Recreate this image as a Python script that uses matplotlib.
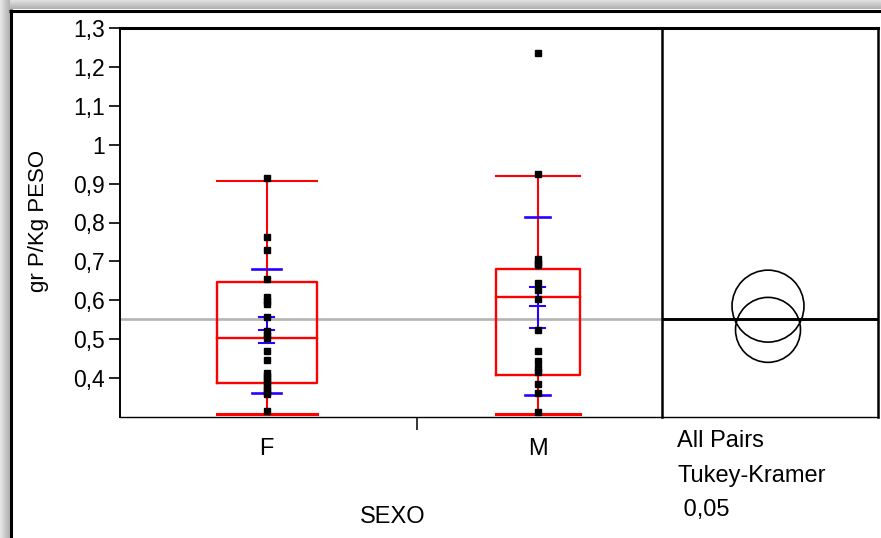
import numpy as np
import matplotlib.pyplot as plt
from matplotlib.patches import Circle

# gr P/Kg PESO by SEXO (oneway analysis)
categories = ['F', 'M']
f_points = [0.914, 0.763, 0.729, 0.656, 0.608, 0.598, 0.590, 0.558, 0.522, 0.512,
            0.502, 0.469, 0.447, 0.413, 0.405, 0.397, 0.390, 0.380, 0.372, 0.365,
            0.359, 0.316]
m_points = [1.237, 0.925, 0.705, 0.697, 0.690, 0.644, 0.627, 0.603, 0.524, 0.470,
            0.443, 0.427, 0.415, 0.385, 0.362, 0.313]

whisker_lo = [0.307, 0.307]
q1 = [0.387, 0.408]
median = [0.502, 0.608]
q3 = [0.646, 0.680]
whisker_hi = [0.907, 0.920]

means = [0.524, 0.585]
ci_lo = [0.491, 0.530]
ci_hi = [0.558, 0.635]
sd_lo = [0.362, 0.356]
sd_hi = [0.680, 0.813]
grand_mean = 0.552

# Tukey-Kramer comparison circle radii
circle_r = [0.0835, 0.0925]

yticks = [0.4, 0.5, 0.6, 0.7, 0.8, 0.9, 1.0, 1.1, 1.2, 1.3]
ytick_labels = ['0,4', '0,5', '0,6', '0,7', '0,8', '0,9', '1', '1,1', '1,2', '1,3']

# layout / style
W, H = 881, 538
RED = '#ff0000'
BLUE = '#2a00ff'
GRAY = '#b4b4b4'
box_half = [0.1845, 0.155]
sd_half = [0.054, 0.047]
ci_half = [0.028, 0.027]
plt.rcParams['font.family'] = ['Liberation Sans', 'DejaVu Sans']

fig = plt.figure(figsize=(W / 100, H / 100), dpi=100)

# window frame with shadow
bg = fig.add_axes([0, 0, 1, 1], zorder=-10)
bg.set_xlim(0, W)
bg.set_ylim(H, 0)
bg.axis('off')
grad = np.linspace(0.90, 0.70, 10)
bg.imshow(np.tile(grad[:, None], (1, 2)), cmap='gray', vmin=0, vmax=1,
          extent=(0, W, 9.5, 0), aspect='auto')
bg.imshow(np.tile(grad[None, :], (2, 1)), cmap='gray', vmin=0, vmax=1,
          extent=(0, 9.5, H, 0), aspect='auto')
bg.plot([9, W], [10.5, 10.5], color='black', lw=2.2, solid_capstyle='butt')
bg.plot([10.5, 10.5], [9, H], color='black', lw=2.2, solid_capstyle='butt')

x0, x1, x2 = 120, 662, 878
y_top, y_bot = 28, 417
ax2 = fig.add_axes([x1 / W, 1 - y_bot / H, (x2 - x1) / W, (y_bot - y_top) / H])
ax = fig.add_axes([x0 / W, 1 - y_bot / H, (x1 - x0) / W, (y_bot - y_top) / H],
                  sharey=ax2)

ax.set_ylim(0.3, 1.3)
ax.set_xlim(0.4587, 2.4587)
ax.set_yticks(yticks)
ax.set_yticklabels(ytick_labels)
ax.set_xticks([1, 2])
ax.set_xticklabels(categories)
ax.set_xticks([1.555], minor=True)
ax.tick_params(axis='y', length=8, width=1.2, pad=3, labelsize=16.5, direction='out')
ax.tick_params(axis='x', which='major', length=0, pad=15, labelsize=17)
ax.tick_params(axis='x', which='minor', length=9, width=1.1, direction='out')

for s, lw in [('left', 1.4), ('bottom', 1.0), ('top', 2.2), ('right', 1.8)]:
    ax.spines[s].set_linewidth(lw)

ax.axhline(grand_mean, color=GRAY, lw=1.9, zorder=1)

for i, pts in enumerate([f_points, m_points]):
    xc = i + 1
    hw = box_half[i]
    # whiskers
    ax.plot([xc, xc], [whisker_lo[i], q1[i]], color=RED, lw=1.5, zorder=2)
    ax.plot([xc, xc], [q3[i], whisker_hi[i]], color=RED, lw=1.5, zorder=2)
    ax.plot([xc - hw, xc + hw], [whisker_hi[i]] * 2, color=RED, lw=1.5, zorder=2)
    ax.plot([xc - hw, xc + hw], [whisker_lo[i]] * 2, color=RED, lw=2.2, zorder=2)
    # box
    ax.plot([xc - hw, xc + hw, xc + hw, xc - hw, xc - hw],
            [q1[i], q1[i], q3[i], q3[i], q1[i]], color=RED, lw=1.7, zorder=2)
    ax.plot([xc - hw, xc + hw], [median[i]] * 2, color=RED, lw=1.7, zorder=2)
    # mean, confidence interval and std dev marks
    ax.plot([xc, xc], [ci_lo[i], ci_hi[i]], color=BLUE, lw=1.5, zorder=3)
    for v in (ci_lo[i], means[i], ci_hi[i]):
        ax.plot([xc - ci_half[i], xc + ci_half[i]], [v, v], color=BLUE, lw=1.5, zorder=3)
    for v in (sd_lo[i], sd_hi[i]):
        ax.plot([xc - sd_half[i], xc + sd_half[i]], [v, v], color=BLUE, lw=1.9, zorder=3)
    ax.plot([xc] * len(pts), pts, ls='none', marker='s', ms=4.4, color='black',
            mec='black', zorder=4)

# comparison circles panel
ax2.set_xlim(0, (x2 - x1) / (y_bot - y_top))
ax2.tick_params(left=False, labelleft=False, bottom=False, labelbottom=False)
ax2.spines['left'].set_visible(False)
for s, lw in [('bottom', 1.0), ('top', 2.2), ('right', 1.8)]:
    ax2.spines[s].set_linewidth(lw)
ax2.axhline(grand_mean, color='black', lw=2.1)
cx = (768 - x1) / (y_bot - y_top)
for m, r in zip(means, circle_r):
    ax2.add_patch(Circle((cx, m), r, fill=False, ec='black', lw=1.2))

fig.text(677 / W, 1 - 446.7 / H, 'All Pairs', fontsize=17, va='baseline')
fig.text(677 / W, 1 - 481.7 / H, 'Tukey-Kramer', fontsize=17, va='baseline')
fig.text(677 / W, 1 - 516 / H, ' 0,05', fontsize=17, va='baseline')
fig.text(393 / W, 1 - 523 / H, 'SEXO', fontsize=17, ha='center', va='baseline')
fig.text(38.5 / W, 1 - 221 / H, 'gr P/Kg PESO', fontsize=16, rotation=90,
         ha='center', va='center')

fig.savefig('out.png', dpi=100)
